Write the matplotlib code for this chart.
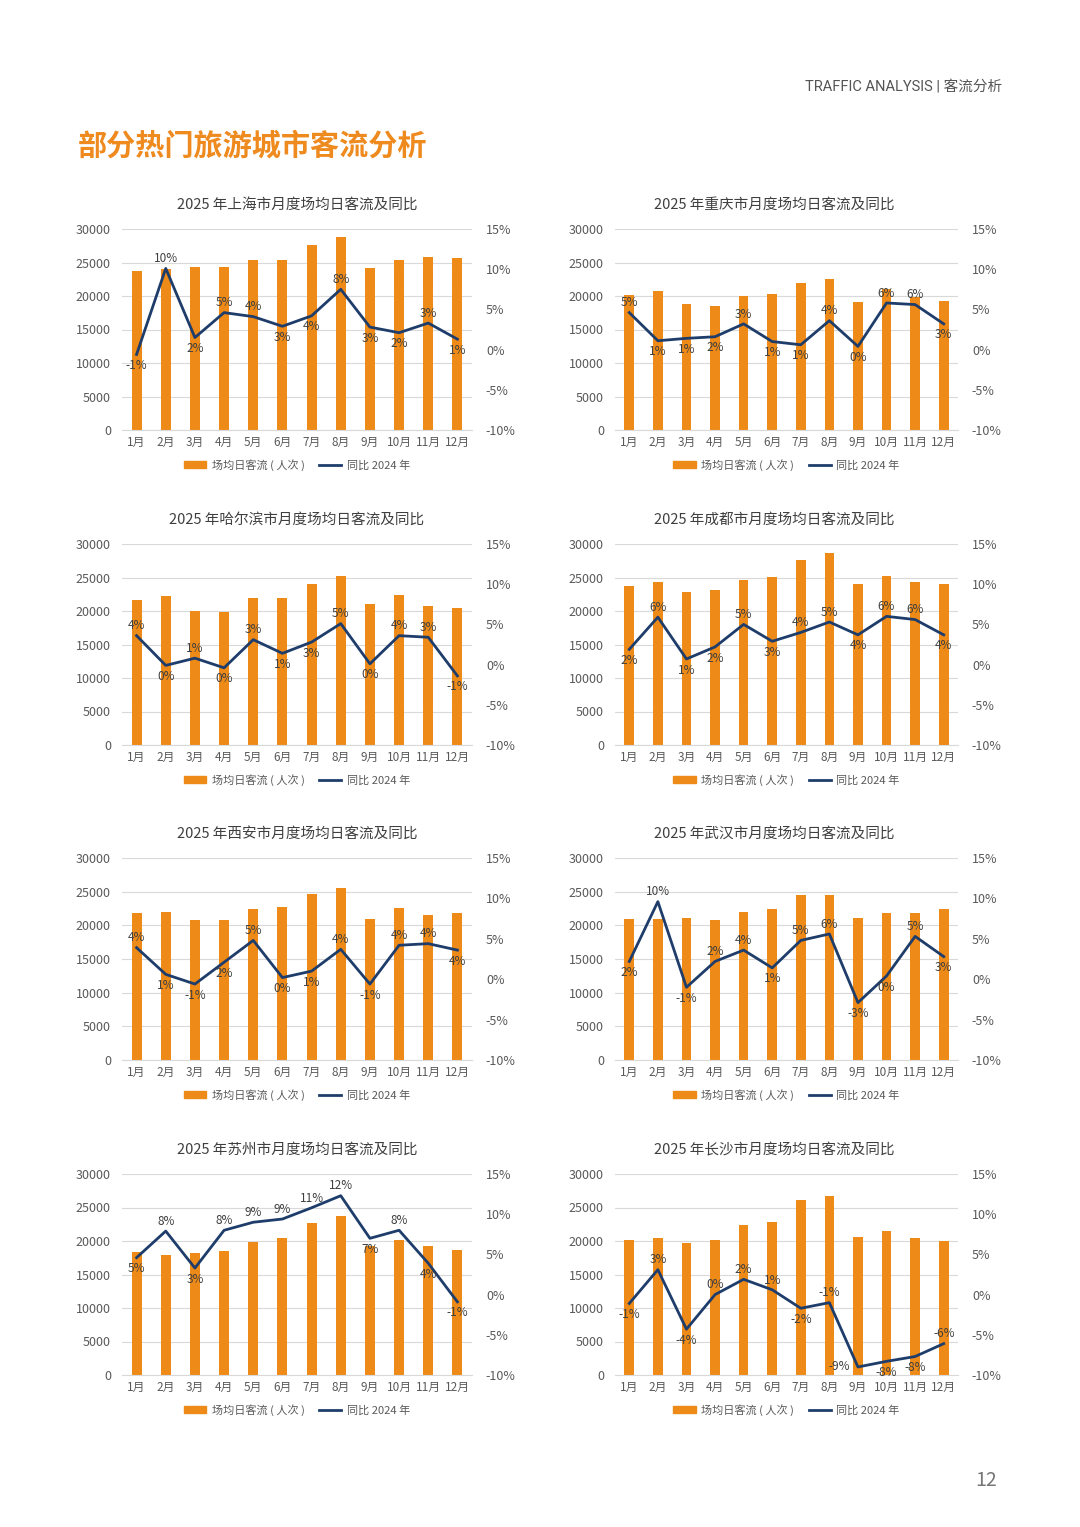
import matplotlib
matplotlib.use("Agg")
import matplotlib.pyplot as plt
import numpy as np
from matplotlib.patches import Patch
from matplotlib.lines import Line2D

plt.rcParams['font.family'] = ['Noto Sans CJK SC', 'DejaVu Sans']

# ---- data ----
months = ['1月', '2月', '3月', '4月', '5月', '6月', '7月', '8月', '9月', '10月', '11月', '12月']
cities = ['上海', '重庆', '哈尔滨', '成都', '西安', '武汉', '苏州', '长沙']

shanghai_flow = [23700, 24000, 24400, 24400, 25400, 25400, 27600, 28800, 24200, 25300, 25800, 25600]
shanghai_yoy = [-0.6, 10.1, 1.5, 4.6, 4.1, 2.9, 4.2, 7.5, 2.8, 2.1, 3.3, 1.3]

chongqing_flow = [20200, 20700, 18800, 18500, 20000, 20300, 21900, 22600, 19100, 21100, 19800, 19300]
chongqing_yoy = [4.6, 1.1, 1.4, 1.6, 3.2, 1.0, 0.6, 3.6, 0.4, 5.8, 5.6, 3.2]

harbin_flow = [21700, 22300, 20000, 19900, 21900, 22000, 24000, 25200, 21000, 22400, 20800, 20500]
harbin_yoy = [3.6, -0.1, 0.8, -0.4, 3.1, 1.4, 2.8, 5.1, 0.1, 3.6, 3.4, -1.4]

chengdu_flow = [23700, 24400, 22800, 23100, 24700, 25100, 27600, 28600, 24100, 25200, 24300, 24000]
chengdu_yoy = [1.9, 5.9, 0.7, 2.2, 5.0, 2.9, 4.0, 5.3, 3.7, 6.0, 5.6, 3.7]

xian_flow = [21800, 22000, 20800, 20800, 22400, 22700, 24700, 25600, 20900, 22600, 21500, 21800]
xian_yoy = [3.9, 0.6, -0.6, 2.1, 4.8, 0.2, 1.0, 3.7, -0.6, 4.2, 4.4, 3.6]

wuhan_flow = [20900, 21000, 21100, 20800, 22000, 22400, 24500, 24500, 21100, 21800, 21800, 22400]
wuhan_yoy = [2.2, 9.6, -1.0, 2.2, 3.6, 1.4, 4.8, 5.6, -2.9, 0.4, 5.3, 2.8]

suzhou_flow = [18300, 17900, 18200, 18500, 19800, 20400, 22700, 23700, 19200, 20200, 19300, 18700]
suzhou_yoy = [4.6, 7.9, 3.3, 8.0, 9.0, 9.4, 10.8, 12.3, 7.0, 8.0, 3.9, -0.9]

changsha_flow = [20200, 20500, 19700, 20200, 22400, 22800, 26100, 26700, 20600, 21500, 20400, 20000]
changsha_yoy = [-1.1, 3.1, -4.3, 0.0, 1.9, 0.6, -1.7, -1.0, -9.0, -8.3, -7.7, -6.1]

flows = [shanghai_flow, chongqing_flow, harbin_flow, chengdu_flow,
         xian_flow, wuhan_flow, suzhou_flow, changsha_flow]
yoys = [shanghai_yoy, chongqing_yoy, harbin_yoy, chengdu_yoy,
        xian_yoy, wuhan_yoy, suzhou_yoy, changsha_yoy]

# where each data label sits: a=above, b=below, l=left
label_pos = ['babaabbabbab', 'abbbabbabaab', 'abababbabaab', 'babbabaabaab',
             'abbbabbabaab', 'babaabaabbab', 'babaaaaababb', 'babaaabalbba']

ORANGE = '#EE8A17'
NAVY = '#1F3D6B'
GRID = '#D9D9D9'
TXT = '#595959'
LBL = '#404040'

W, H = 1080, 1527
fig = plt.figure(figsize=(W / 100, H / 100), dpi=100)
fig.patch.set_facecolor('white')


def fmt_pct(v):
    r = int(np.floor(abs(v) + 0.5))
    return f"{'-' if (v < 0 and r) else ''}{r}%"


# axes boxes in pixels
lefts = [(122, 472), (615, 958)]
rows = [(229, 430), (544, 745), (858, 1060), (1174, 1375)]
title_shift = [0, -12]  # px, right column titles sit a bit left of centre

x = np.arange(len(months))
for i, city in enumerate(cities):
    r, c = divmod(i, 2)
    l_px, r_px = lefts[c]
    t_px, b_px = rows[r]
    ax = fig.add_axes([l_px / W, 1 - b_px / H, (r_px - l_px) / W, (b_px - t_px) / H])
    ax.bar(x, flows[i], width=0.34, color=ORANGE, zorder=2)
    ax.set_ylim(0, 30000)
    ax.set_yticks(np.arange(0, 30001, 5000))
    ax.set_xlim(-0.5, 11.5)
    ax.set_xticks(x)
    ax.set_xticklabels(months, fontsize=8.5, color=TXT)
    ax.tick_params(axis='y', labelsize=9, colors=TXT, length=0, pad=8)
    ax.tick_params(axis='x', length=0, pad=4)
    ax.grid(axis='y', color=GRID, lw=0.8, zorder=0)
    for s in ['top', 'right', 'left']:
        ax.spines[s].set_visible(False)
    ax.spines['bottom'].set_color(GRID)
    ax.spines['bottom'].set_linewidth(0.8)

    ax2 = ax.twinx()
    ax2.plot(x, yoys[i], color=NAVY, lw=2, zorder=3)
    ax2.set_ylim(-10, 15)
    ax2.set_yticks(np.arange(-10, 16, 5))
    ax2.set_yticklabels([f"{v}%" for v in range(-10, 16, 5)])
    ax2.tick_params(axis='y', labelsize=9, colors=TXT, length=0, pad=10)
    for s in ax2.spines.values():
        s.set_visible(False)

    for j, v in enumerate(yoys[i]):
        p = label_pos[i][j]
        if p == 'a':
            off, ha = (0, 7), 'center'
        elif p == 'b':
            off, ha = (0, -8), 'center'
        else:
            off, ha = (-6, 0), 'right'
        ax2.annotate(fmt_pct(v), (j, v), xytext=off, textcoords='offset points',
                     ha=ha, va='center', fontsize=8.5, color=LBL, zorder=4)

    tx = 0.5 + title_shift[c] / (r_px - l_px)
    ax.text(tx, 1 + 24 / (b_px - t_px), f"2025 年{city}市月度场均日客流及同比",
            transform=ax.transAxes, ha='center', va='center', fontsize=10.5,
            fontweight='medium', color='#3F3F3F')

    handles = [Patch(color=ORANGE), Line2D([0], [0], color=NAVY, lw=2)]
    ax.legend(handles, ['场均日客流 ( 人次 )', '同比 2024 年'], loc='center',
              bbox_to_anchor=(0.5, -35 / (b_px - t_px)), ncol=2, frameon=False,
              fontsize=8, labelcolor=TXT, handlelength=2.0, handleheight=0.6,
              columnspacing=1.3, handletextpad=0.5)

fig.text(78 / W, 1 - 146 / H, '部分热门旅游城市客流分析', fontsize=21, fontweight='bold',
         color='#EE8A1E', ha='left', va='center')
fig.text(1002 / W, 1 - 86 / H, 'TRAFFIC ANALYSIS | 客流分析', fontsize=10.5,
         family=['Roboto', 'Noto Sans CJK SC'], color='#555555', ha='right', va='center')
fig.text(997 / W, 1 - 1480 / H, '12', fontsize=14, color='#777777', ha='right', va='center')

fig.savefig('out.png', dpi=100, facecolor='white')
